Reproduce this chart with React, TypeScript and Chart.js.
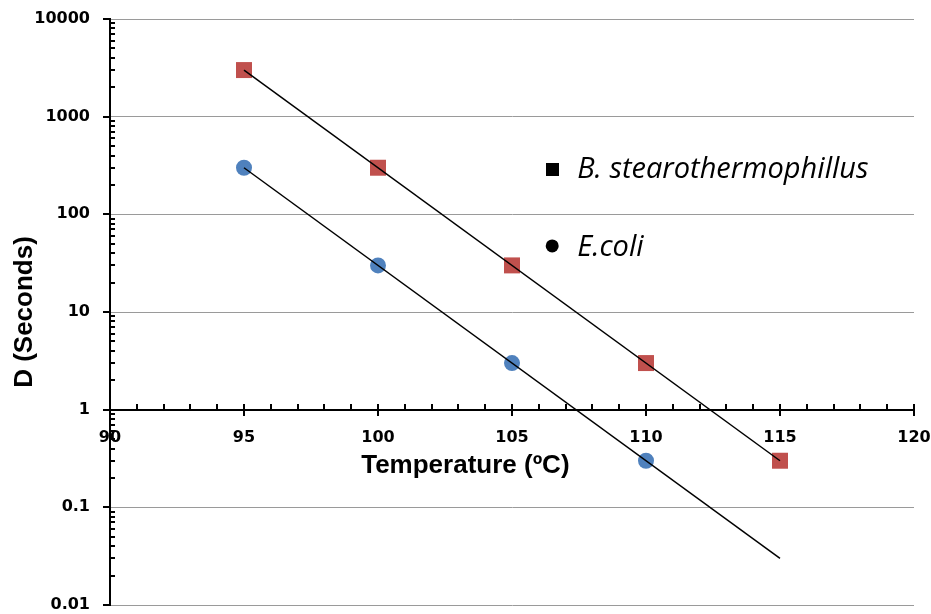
import React, { useEffect, useRef } from 'react';
import { Chart, registerables } from 'chart.js';

Chart.register(...registerables);

// ---- Data ----
const bStearoTemps = [95, 100, 105, 110, 115];
const bStearoValues = [3000, 300, 30, 3, 0.3];
const eColiTemps = [95, 100, 105, 110];
const eColiValues = [300, 30, 3, 0.3];
const bStearoTrendTemps = [95, 115];
const bStearoTrendValues = [3000, 0.3];
const eColiTrendTemps = [95, 115];
const eColiTrendValues = [300, 0.03];
const yTickValues = [0.01, 0.1, 1, 10, 100, 1000, 10000];
const yTickLabels = ['0.01', '0.1', '1', '10', '100', '1000', '10000'];
const seriesNames = ['B. stearothermophillus', 'E.coli'];
const xTitle = 'Temperature (ºC)';
const yTitle = 'D (Seconds)';
// legend anchor (in data units) for the in-plot legend
const legendTemp = 106.5;
const legendLevels = [285, 47.5];

const toPoints = (xs: number[], ys: number[]) => xs.map((x, i) => ({ x, y: ys[i] }));

const decorPlugin = {
  id: 'decor',
  afterDraw(chart: any) {
    const ctx = chart.ctx;
    const xs = chart.scales.x;
    const ys = chart.scales.y;
    const ca = chart.chartArea;
    const axisY = Math.round(ys.getPixelForValue(1));
    ctx.save();
    ctx.strokeStyle = '#000';
    ctx.lineWidth = 2;
    // x-axis ticks
    for (let v = xs.min; v <= xs.max; v += 1) {
      const px = Math.round(xs.getPixelForValue(v));
      const major = v % 5 === 0;
      ctx.beginPath();
      ctx.moveTo(px, axisY - 6);
      ctx.lineTo(px, major ? axisY + 6 : axisY);
      ctx.stroke();
    }
    // y-axis ticks
    const left = Math.round(ca.left);
    for (const v of yTickValues) {
      const py = Math.round(ys.getPixelForValue(v));
      ctx.beginPath();
      ctx.moveTo(left - 7, py);
      ctx.lineTo(left, py);
      ctx.stroke();
      if (v < 10000) {
        for (let k = 2; k <= 9; k++) {
          const pm = Math.round(ys.getPixelForValue(v * k));
          ctx.beginPath();
          ctx.moveTo(left, pm);
          ctx.lineTo(left + 5, pm);
          ctx.stroke();
        }
      }
    }
    // x title
    ctx.fillStyle = '#000';
    ctx.font = 'bold 26px "Liberation Sans", Arial, sans-serif';
    ctx.textAlign = 'center';
    ctx.textBaseline = 'middle';
    ctx.fillText(xTitle, ca.left + (ca.right - ca.left) * 0.442, axisY + 56);

    // legend
    const lx = xs.getPixelForValue(legendTemp);
    const ly1 = ys.getPixelForValue(legendLevels[0]);
    const ly2 = ys.getPixelForValue(legendLevels[1]);
    ctx.fillRect(Math.round(lx - 6.5), Math.round(ly1 - 6.5), 13, 13);
    ctx.beginPath();
    ctx.arc(lx, ly2, 6.5, 0, Math.PI * 2);
    ctx.fill();
    ctx.font = 'italic 29px "Open Sans", Lato, sans-serif';
    ctx.textAlign = 'left';
    ctx.textBaseline = 'alphabetic';
    ctx.fillText(chart.data.datasets[2].label, lx + 25, ly1 + 8);
    ctx.fillText(chart.data.datasets[3].label, lx + 25, ly2 + 10);
    ctx.restore();
  },
};

export default function App() {
  const ref = useRef<HTMLCanvasElement>(null);
  useEffect(() => {
    if (!ref.current) return;
    const chart = new Chart(ref.current, {
      type: 'scatter',
      data: {
        datasets: [
          {
            label: 'trend1',
            data: toPoints(bStearoTrendTemps, bStearoTrendValues),
            showLine: true,
            borderColor: '#000',
            borderWidth: 1.5,
            pointRadius: 0,
            order: 0,
          },
          {
            label: 'trend2',
            data: toPoints(eColiTrendTemps, eColiTrendValues),
            showLine: true,
            borderColor: '#000',
            borderWidth: 1.5,
            pointRadius: 0,
            order: 0,
          },
          {
            label: seriesNames[0],
            data: toPoints(bStearoTemps, bStearoValues),
            pointStyle: 'rect',
            pointRadius: 11.3,
            backgroundColor: '#C0504D',
            borderColor: '#C0504D',
            borderWidth: 0,
            order: 1,
          },
          {
            label: seriesNames[1],
            data: toPoints(eColiTemps, eColiValues),
            pointStyle: 'circle',
            pointRadius: 8,
            backgroundColor: '#4F81BD',
            borderColor: '#4F81BD',
            borderWidth: 0,
            order: 1,
          },
        ],
      },
      options: {
        responsive: false,
        animation: false,
        layout: { autoPadding: false, padding: { left: 0, top: 19, right: 17, bottom: 9 } },
        plugins: { legend: { display: false }, tooltip: { enabled: false } },
        scales: {
          x: {
            type: 'linear',
            min: 90,
            max: 120,
            position: { y: 1 } as any,
            grid: {
              display: true,
              drawOnChartArea: false,
              drawTicks: true,
              tickLength: 20,
              color: 'rgba(0,0,0,0)',
              tickColor: 'rgba(0,0,0,0)',
            },
            border: { display: true, color: '#000', width: 2 },
            ticks: {
              stepSize: 5,
              padding: 0,
              color: '#000',
              font: { family: '"DejaVu Sans", Verdana, sans-serif', size: 16, weight: 'bold', lineHeight: 1 },
            },
          },
          y: {
            type: 'logarithmic',
            min: 0.01,
            max: 10000,
            afterBuildTicks: (scale: any) => {
              scale.ticks = yTickValues.map((v) => ({ value: v }));
            },
            afterFit: (scale: any) => {
              scale.width = 110;
            },
            grid: {
              color: '#9a9a9a',
              lineWidth: 1,
              drawTicks: true,
              tickLength: 20,
              tickColor: 'rgba(0,0,0,0)',
            },
            border: { display: true, color: '#000', width: 2 },
            ticks: {
              padding: 0,
              color: '#000',
              font: { family: '"DejaVu Sans", Verdana, sans-serif', size: 16, weight: 'bold', lineHeight: 1 },
              callback: (value: any) => {
                const i = yTickValues.indexOf(Number(value));
                return i >= 0 ? yTickLabels[i] : '';
              },
            },
            title: {
              display: true,
              text: yTitle,
              color: '#000',
              padding: { top: 9, bottom: 0 },
              font: { family: '"Liberation Sans", Arial, sans-serif', size: 26, weight: 'bold' },
            },
          },
        },
      },
      plugins: [decorPlugin],
    });
    return () => chart.destroy();
  }, []);
  return (
    <div style={{ position: 'absolute', left: 0, top: 0, width: 931, height: 614, background: '#fff' }}>
      <canvas ref={ref} width={931} height={614} />
    </div>
  );
}
